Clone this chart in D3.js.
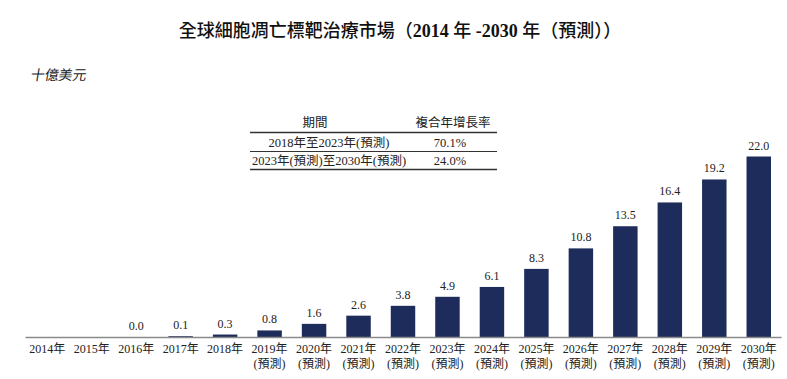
<!DOCTYPE html>
<html>
<head>
<meta charset="utf-8">
<script src="https://cdn.jsdelivr.net/npm/d3@7"></script>
<style>
  html, body { margin: 0; padding: 0; background: #fff; }
  svg { display: block; }
</style>
</head>
<body>
<svg id="chart" width="787" height="379"></svg>
<script>
const years = ["2014年","2015年","2016年","2017年","2018年","2019年","2020年","2021年","2022年","2023年","2024年","2025年","2026年","2027年","2028年","2029年","2030年"];
const forecast = [false,false,false,false,false,true,true,true,true,true,true,true,true,true,true,true,true];
const values = [null,null,0.0,0.1,0.3,0.8,1.6,2.6,3.8,4.9,6.1,8.3,10.8,13.5,16.4,19.2,22.0];
const tablePeriods = ["2018年至2023年(預測)","2023年(預測)至2030年(預測)"];
const tableCagr = ["70.1%","24.0%"];
const tableHeaders = ["期間","複合年增長率"];
const titleText = "全球細胞凋亡標靶治療市場";
const unitText = "十億美元";

const FONT = "'Liberation Serif', 'Noto Sans CJK TC', serif";
const CJK = "'Noto Sans CJK TC'";
const svg = d3.select("#chart");

const x = d3.scaleBand().domain(years).range([25, 781]).paddingInner(0.45).paddingOuter(0.225);
const y = d3.scaleLinear().domain([0, 22]).range([337, 156.5]);

// title
const title = svg.append("text").attr("x", 400).attr("y", 37).attr("text-anchor", "middle")
  .attr("font-family", FONT).attr("font-size", 18).attr("fill", "#111");
title.append("tspan").attr("font-family", CJK).attr("font-weight", 500).text(titleText + "（");
title.append("tspan").attr("font-weight", "bold").text("2014 ");
title.append("tspan").attr("font-family", CJK).attr("font-weight", 500).text("年");
title.append("tspan").attr("font-weight", "bold").text(" -2030 ");
title.append("tspan").attr("font-family", CJK).attr("font-weight", 500).text("年（預測））");

// unit
svg.append("text").attr("x", 33).attr("y", 80).attr("font-family", CJK)
  .attr("font-size", 14).attr("fill", "#222")
  .attr("transform", "translate(11,0) skewX(-10)").text(unitText);

// table
const tx0 = 250, tx1 = 497, colH = 315, colP = 329, col2 = 450;
const tg = svg.append("g").attr("font-family", FONT).attr("font-size", 12.5).attr("fill", "#222");
tg.append("text").attr("x", colH).attr("y", 127).attr("text-anchor", "middle").text(tableHeaders[0]);
tg.append("text").attr("x", col2 + 3).attr("y", 127).attr("text-anchor", "middle").text(tableHeaders[1]);
const lineYs = [132.5, 151.5, 169.5];
lineYs.forEach((ly, i) => {
  tg.append("line").attr("x1", tx0).attr("x2", tx1).attr("y1", ly).attr("y2", ly)
    .attr("stroke", "#333").attr("stroke-width", i === 1 ? 1 : 1.3);
});
tablePeriods.forEach((p, i) => {
  const ry = [146.5, 164.5][i];
  tg.append("text").attr("x", colP).attr("y", ry).attr("text-anchor", "middle").text(p);
  tg.append("text").attr("x", col2).attr("y", ry).attr("text-anchor", "middle").text(tableCagr[i]);
});

// bars
const data = years.map((yr, i) => ({ yr, v: values[i], f: forecast[i] }));
svg.append("g").selectAll("rect").data(data.filter(d => d.v !== null)).join("rect")
  .attr("x", d => x(d.yr)).attr("width", x.bandwidth())
  .attr("y", d => y(d.v)).attr("height", d => Math.max(y(0) - y(d.v), 0.8))
  .attr("fill", "#1d2c5b");

// value labels
svg.append("g").selectAll("text").data(data.filter(d => d.v !== null)).join("text")
  .attr("x", d => x(d.yr) + x.bandwidth() / 2).attr("y", d => y(d.v) - 7)
  .attr("text-anchor", "middle").attr("font-family", FONT).attr("font-size", 12).attr("fill", "#222")
  .text(d => d3.format(".1f")(d.v));

// axis
const axis = svg.append("g").attr("transform", `translate(0,${y(0)})`)
  .call(d3.axisBottom(x).tickSize(0).tickSizeOuter(0).tickFormat(""));
axis.select(".domain").attr("stroke", "#8a8a8a").attr("stroke-width", 1.5);

// x labels
const lbl = svg.append("g").attr("font-family", FONT).attr("font-size", 12).attr("fill", "#222");
data.forEach(d => {
  const cx = x(d.yr) + x.bandwidth() / 2;
  lbl.append("text").attr("x", cx).attr("y", 353).attr("text-anchor", "middle").text(d.yr);
  if (d.f) lbl.append("text").attr("x", cx).attr("y", 368).attr("text-anchor", "middle").text("(預測)");
});
</script>
</body>
</html>
